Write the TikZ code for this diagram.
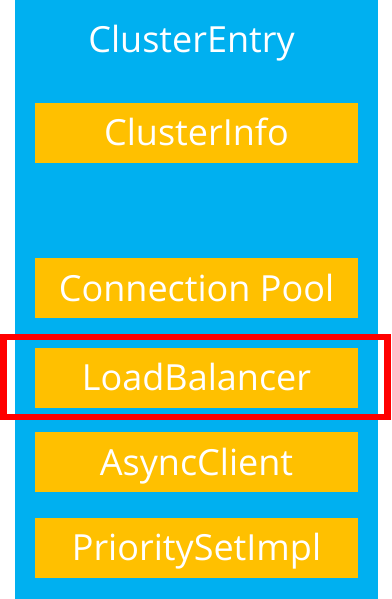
\documentclass[tikz,border=0pt]{standalone}
\usepackage{fontspec}
\setmainfont{Open Sans}
\usepackage{xcolor}
\usepackage{tikz}
\usetikzlibrary{positioning}

\definecolor{entryblue}{HTML}{00B0F0}
\definecolor{partorange}{HTML}{FFC000}
\definecolor{markred}{HTML}{FF0000}

\begin{document}
\begin{tikzpicture}[x=1pt, y=-1pt, node distance=25pt, every node/.style={font=\fontsize{36}{40}\selectfont, text=white}, partbox/.style={fill=partorange, minimum width=323pt, minimum height=60pt, inner sep=0pt, text height=25.7pt, text depth=0pt}, markbox/.style={draw=markred, line width=6.5pt, minimum width=384pt, minimum height=80pt, inner sep=0pt}]
\useasboundingbox (0,0) rectangle (391,599);
\node[fill=entryblue, minimum width=363pt, minimum height=599pt, inner sep=0pt] (entry) at (196.5,299.5) {};
\node[anchor=base] (title) at (191.5,53) {ClusterEntry};
\node[partbox] (info) at (196.5,133) {ClusterInfo};
\node[partbox,below=95pt of info] (pool) {Connection Pool};
\node[partbox,below=29pt of pool] (lb) {LoadBalancer};
\node[partbox,below=24pt of lb] (async) {AsyncClient};
\node[partbox,below=of async] (prio) {PrioritySetImpl};
\node[markbox] (mark) at (195.5,377) {};
\end{tikzpicture}
\end{document}
